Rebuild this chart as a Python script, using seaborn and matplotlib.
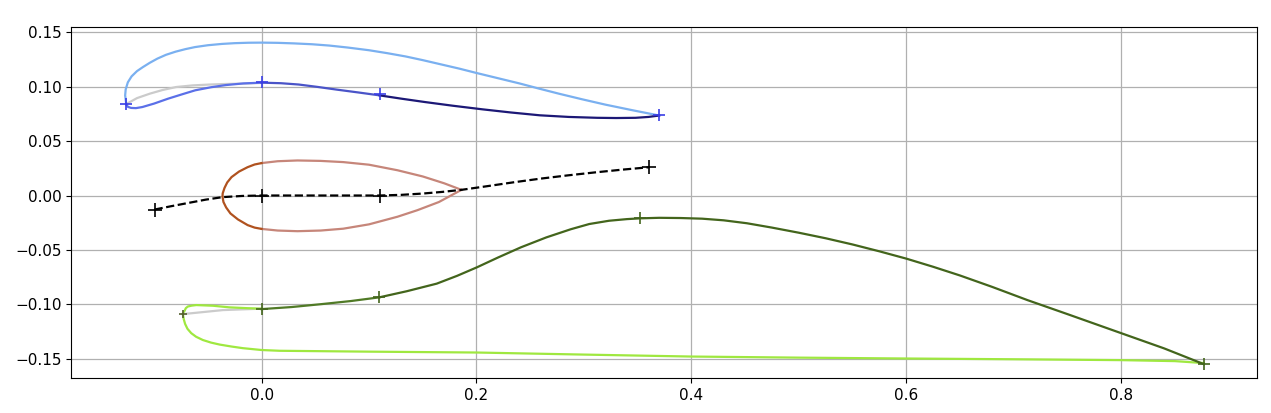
import matplotlib
matplotlib.use("Agg")
import matplotlib.pyplot as plt
import seaborn as sns

# --- blue wing (top) ---
blue_upper_x = [-0.126, -0.127, -0.1265, -0.1245, -0.121, -0.116, -0.1105, -0.104, -0.097, -0.089, -0.080, -0.071,
                -0.062, -0.050, -0.037, -0.025, -0.012, 0.0, 0.015, 0.030, 0.047, 0.063, 0.080, 0.100, 0.117,
                0.134, 0.150, 0.167, 0.184, 0.200, 0.220, 0.240, 0.258, 0.277, 0.298, 0.320, 0.345, 0.370]
blue_upper_y = [0.084, 0.092, 0.0975, 0.1040, 0.1095, 0.1143, 0.1180, 0.1220, 0.1258, 0.1293, 0.1322, 0.1345,
                0.1364, 0.1381, 0.1393, 0.1400, 0.1404, 0.1405, 0.1403, 0.1398, 0.1390, 0.1378, 0.1360, 0.1335, 0.1308,
                0.1278, 0.1244, 0.1205, 0.1166, 0.1126, 0.1078, 0.1030, 0.0983, 0.0935, 0.0885, 0.0835, 0.0784, 0.0735]
blue_front_x = [-0.126, -0.1245, -0.1215, -0.117, -0.111, -0.100, -0.087, -0.074, -0.0617, -0.047, -0.0333, -0.017, 0.0]
blue_front_y = [0.084, 0.0815, 0.0805, 0.0803, 0.0813, 0.0845, 0.089, 0.093, 0.0967, 0.0995, 0.1015, 0.1030, 0.1037]
blue_mid_x = [0.0, 0.018, 0.0345, 0.052, 0.070, 0.090, 0.110]
blue_mid_y = [0.1037, 0.1032, 0.1020, 0.0998, 0.0973, 0.0947, 0.0920]
blue_rear_x = [0.110, 0.130, 0.152, 0.178, 0.2055, 0.232, 0.259, 0.286, 0.3125, 0.330, 0.348, 0.360, 0.370]
blue_rear_y = [0.0920, 0.0890, 0.0859, 0.0825, 0.0792, 0.0763, 0.0737, 0.0722, 0.0714, 0.0712, 0.0714, 0.0722, 0.0735]
blue_grey_x = [-0.126, -0.116, -0.104, -0.092, -0.0795, -0.064, -0.048, -0.033, -0.0175, 0.0]
blue_grey_y = [0.084, 0.0895, 0.0936, 0.0970, 0.0997, 0.1012, 0.1020, 0.1025, 0.1028, 0.1035]
blue_pts_x = [-0.126, 0.0, 0.110, 0.370]
blue_pts_y = [0.084, 0.104, 0.093, 0.074]

# --- brown teardrop + dashed camber (middle) ---
drop_nose_x = [0.0, -0.0065, -0.0131, -0.021, -0.028, -0.032, -0.0345, -0.0362, -0.0364, -0.0355, -0.033, -0.029,
               -0.022, -0.013, -0.0065, 0.0]
drop_nose_y = [0.0298, 0.0285, 0.0260, 0.0220, 0.0169, 0.0120, 0.0070, 0.0020, -0.0010, -0.0060, -0.0110, -0.0165,
               -0.0220, -0.0272, -0.0295, -0.0307]
drop_top_x = [0.0, 0.015, 0.0334, 0.055, 0.076, 0.100, 0.1265, 0.150, 0.170, 0.186]
drop_top_y = [0.0298, 0.0315, 0.0322, 0.0318, 0.0307, 0.0283, 0.0232, 0.0175, 0.0112, 0.0052]
drop_bot_x = [0.0, 0.015, 0.0334, 0.055, 0.076, 0.100, 0.1265, 0.145, 0.165, 0.186]
drop_bot_y = [-0.0307, -0.0322, -0.0328, -0.0322, -0.0305, -0.0265, -0.0195, -0.0135, -0.0060, 0.0052]
camber_x = [-0.0996, -0.084, -0.068, -0.052, -0.0364, -0.018, 0.0, 0.0574, 0.110, 0.130, 0.150, 0.168, 0.186,
            0.2095, 0.235, 0.2596, 0.285, 0.310, 0.335, 0.361]
camber_y = [-0.0129, -0.0098, -0.0068, -0.0038, -0.0015, -0.0004, 0.0, 0.0, 0.0, 0.0006, 0.0018, 0.0033, 0.0052,
            0.0085, 0.0122, 0.0155, 0.0185, 0.0212, 0.0237, 0.0260]
camber_pts_x = [-0.0996, 0.0, 0.110, 0.361]
camber_pts_y = [-0.0129, 0.0, 0.0, 0.026]

# --- green wing (bottom) ---
green_front_x = [0.0, 0.028, 0.056, 0.083, 0.1095]
green_front_y = [-0.1044, -0.1025, -0.0998, -0.0970, -0.0936]
green_rear_x = [0.1095, 0.135, 0.163, 0.182, 0.2004, 0.220, 0.2414, 0.265, 0.2878, 0.305, 0.3234, 0.340, 0.352,
                0.370, 0.390, 0.410, 0.430, 0.4517, 0.475, 0.500, 0.525, 0.550, 0.575, 0.600, 0.625, 0.650,
                0.680, 0.713, 0.750, 0.800, 0.840, 0.877]
green_rear_y = [-0.0936, -0.0880, -0.0810, -0.0738, -0.0660, -0.0570, -0.0476, -0.0385, -0.0310, -0.0262, -0.0232,
                -0.0217, -0.0210, -0.0205, -0.0207, -0.0213, -0.0228, -0.0255, -0.0295, -0.0342, -0.0393, -0.0450,
                -0.0513, -0.0580, -0.0655, -0.0735, -0.0840, -0.0962, -0.1090, -0.1265, -0.1405, -0.1550]
lime_bump_x = [-0.0733, -0.0728, -0.0717, -0.0705, -0.0686, -0.065, -0.0608, -0.0453, -0.0298, -0.0143, 0.0]
lime_bump_y = [-0.1090, -0.1075, -0.1060, -0.1035, -0.1020, -0.1012, -0.1007, -0.1013, -0.1028, -0.1035, -0.1040]
lime_lower_x = [-0.0733, -0.0725, -0.0712, -0.069, -0.0655, -0.061, -0.0547, -0.047, -0.039, -0.028, -0.0174, 0.0,
                0.0168, 0.100, 0.200, 0.300, 0.400, 0.500, 0.600, 0.700, 0.800, 0.850, 0.877]
lime_lower_y = [-0.1090, -0.1135, -0.1180, -0.1225, -0.1265, -0.1298, -0.1328, -0.1352, -0.1370, -0.1388, -0.1403,
                -0.1420, -0.1427, -0.1435, -0.1443, -0.1462, -0.1480, -0.1490, -0.1498, -0.1505, -0.1513, -0.1522,
                -0.1540]
green_grey_x = [-0.0733, -0.036, 0.0]
green_grey_y = [-0.109, -0.1053, -0.104]
green_pts_x = [0.0, 0.1095, 0.352, 0.877]
green_pts_y = [-0.1044, -0.0936, -0.021, -0.155]

plt.rcParams["font.size"] = 11
fig = plt.figure(figsize=(12.71, 4.13), dpi=100)
ax = fig.add_axes([0.0562, 0.084, 0.9324, 0.851])


def curve(x, y, color, **kw):
    sns.lineplot(x=x, y=y, sort=False, estimator=None, color=color, linewidth=1.6, ax=ax, **kw)


def crosses(x, y, color, size=80):
    sns.scatterplot(x=x, y=y, marker="+", s=size, color=color, linewidth=1.2, ax=ax, zorder=5)


# grey helper lines first
curve(blue_grey_x, blue_grey_y, "#cbcbcb")
curve(green_grey_x, green_grey_y, "#cbcbcb")

# blue wing
curve(blue_upper_x, blue_upper_y, "#7ab0f0")
curve(blue_front_x, blue_front_y, "#5b70e8")
curve(blue_mid_x, blue_mid_y, "#4a54c8")
curve(blue_rear_x, blue_rear_y, "#1c1876")
crosses(blue_pts_x, blue_pts_y, "#3a3ee6")

# teardrop
curve(drop_top_x, drop_top_y, "#c6867a")
curve(drop_bot_x, drop_bot_y, "#c6867a")
curve(drop_nose_x, drop_nose_y, "#b0521f")
curve(camber_x, camber_y, "black", linestyle="--")
crosses(camber_pts_x, camber_pts_y, "black", size=110)

# green wing
curve(lime_lower_x, lime_lower_y, "#9fe840")
curve(lime_bump_x, lime_bump_y, "#9fe840")
curve(green_front_x, green_front_y, "#507a26")
curve(green_rear_x, green_rear_y, "#43651c")
crosses(green_pts_x, green_pts_y, "#43651c")
crosses([green_grey_x[0]], [green_grey_y[0]], "#55602e", size=40)

ax.set_xlim(-0.177, 0.926)
ax.set_ylim(-0.168, 0.155)
ax.set_xticks([0.0, 0.2, 0.4, 0.6, 0.8])
ax.set_yticks([-0.15, -0.10, -0.05, 0.0, 0.05, 0.10, 0.15])
ax.grid(True, color="#b0b0b0", linewidth=0.9)
ax.set_axisbelow(True)
ax.set_xlabel("")
ax.set_ylabel("")

fig.savefig("out.png", dpi=100)
